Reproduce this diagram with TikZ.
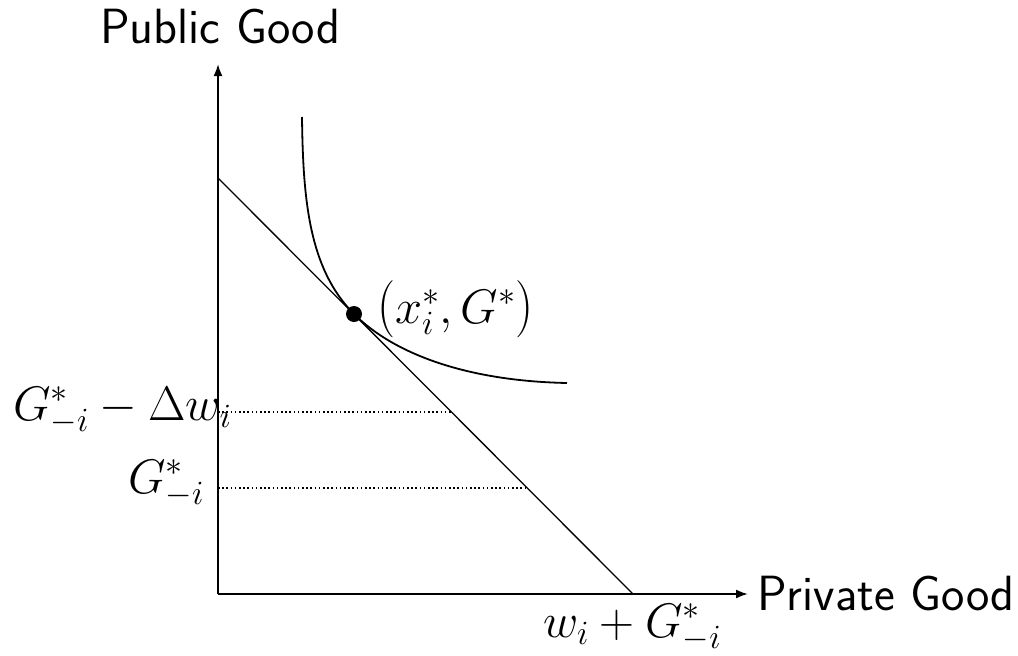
\RequirePackage{fix-cm}
\documentclass[tikz,border=0pt]{standalone}
\usetikzlibrary{arrows.meta}
\tikzset{
  axisline/.style={line width=2pt, -{Latex[length=12pt,width=9pt]}},
  budgetline/.style={line width=1.3pt},
  icurve/.style={line width=1.8pt},
  guide/.style={line width=1.3pt, dash pattern=on 1.6pt off 2.6pt},
  lbl/.style={inner sep=0pt, anchor=base west, font=\fontsize{49.5}{58}\selectfont},
  mlbl/.style={inner sep=0pt, anchor=base west, font=\fontsize{48.5}{56}\selectfont},
}
\newcommand{\tallparen}[1]{\scalebox{1.05}[1.18]{$#1$}}
\begin{document}
\begin{tikzpicture}[x=1pt,y=-1pt]
\useasboundingbox (0,0) rectangle (1018,656);
\coordinate (O) at (218,594);
\coordinate (Ytip) at (218,64);
\coordinate (Xtip) at (748,594);
\coordinate (Bt) at (218,178);
\coordinate (Bb) at (633,594);
\coordinate (T) at (354,314);
\coordinate (A) at (302,117);
\coordinate (B) at (567,383);
\coordinate (D1) at (218,412);
\coordinate (D1e) at (452,412);
\coordinate (D2) at (218,488);
\coordinate (D2e) at (528,488);
\draw[axisline] (O) -- (Ytip);
\draw[axisline] (O) -- (Xtip);
\draw[budgetline] (Bt) -- (Bb);
\draw[icurve] (A) .. controls (303,200) and (309,269) .. (T)
  .. controls (394,354) and (467,381) .. (B);
\draw[guide] (D1) -- (D1e);
\draw[guide] (D2) -- (D2e);
\fill (T) circle (8pt);
\node[lbl] (py) at (100,43) {\sffamily Public Good};
\node[lbl] (px) at (757,610) {\sffamily Private Good};
\node[mlbl] (pt) at (377,323) {$\mathopen{\tallparen{(}}x_i^*, G^*\mathclose{\tallparen{)}}$};
\node[mlbl] (l1) at (13,420) {$G^*_{-i} - \Delta w_i$};
\node[mlbl] (l2) at (128,493) {$G^*_{-i}$};
\node[mlbl] (l3) at (543,637) {$w_i + G^*_{-i}$};
\end{tikzpicture}
\end{document}
